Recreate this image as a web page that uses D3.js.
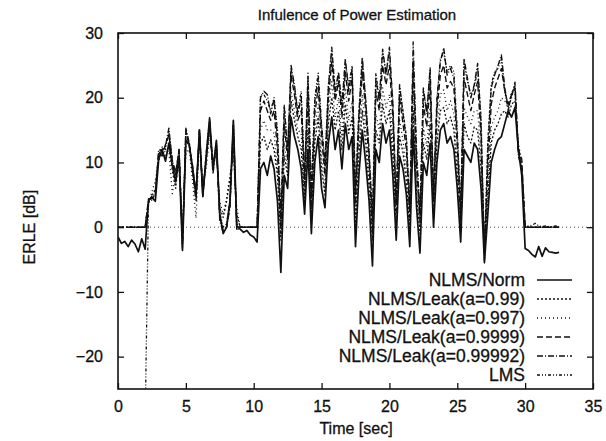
<!DOCTYPE html>
<html>
<head>
<meta charset="utf-8">
<script src="https://cdn.jsdelivr.net/npm/d3@7"></script>
<style>
  body { margin: 0; background: #fff; }
  text { font-family: "Liberation Sans", Arial, Helvetica, sans-serif; fill: #111; }
</style>
</head>
<body>
<div id="chart"></div>
<script>
// sampling of every series: one value each 0.25 s, from 0 s to 32.5 s
const sampleStep = 0.25;

const xTicks = [0, 5, 10, 15, 20, 25, 30, 35];
const yTicks = [-20, -10, 0, 10, 20, 30];

const seriesNames = [
    "NLMS/Norm",
    "NLMS/Leak(a=0.99)",
    "NLMS/Leak(a=0.997)",
    "NLMS/Leak(a=0.9999)",
    "NLMS/Leak(a=0.99992)",
    "LMS"
];

const norm = [
    // 0 - 4.75
    -1.5, -2.5, -2.2, -3.0, -2.0, -2.6, -3.8, -1.8, -3.4, 4.2, 4.6, 4.0, 10.5, 12.0, 10.2, 13.0, 9.5, 7.0, 10.8, -3.6,
    // 5 - 9.75
    13.4, 12.8, 9.0, 5.0, 15.0, 4.8, 11.0, 16.9, 9.0, 13.4, 2.0, -1.0, 0.0, 4.0, 16.5, 0.2, -0.3, -0.8, -0.5, -1.2,
    // 10 - 14.75
    -1.5, -2.3, 9.0, 10.0, 8.0, 11.0, 9.0, 4.0, -7.0, 8.0, 6.0, 17.0, 14.0, 12.0, 9.0, 2.0, 12.0, -1.0, 10.0, 14.0,
    // 15 - 19.75
    6.0, 3.0, 13.0, 17.0, 12.0, 15.0, 9.0, 16.0, 12.0, 14.0, -3.0, 8.0, 15.0, 10.0, 4.0, -6.0, 12.0, 10.0, 16.0, 13.0,
    // 20 - 24.75
    15.0, 8.0, -2.0, 11.0, 9.0, 5.0, -3.0, 15.0, 3.0, -4.0, 10.0, 8.0, 13.0, 0.0, 10.0, 15.0, 16.0, 13.0, 14.0, 12.0,
    // 25 - 29.75
    6.0, -2.3, 12.0, 11.0, 10.0, 13.0, 12.0, 6.0, -5.5, 2.0, 10.0, 12.0, 13.5, 14.0, 16.0, 18.0, 17.0, 18.5, 12.0, 8.0,
    // 30 - 32.5
    -3.3, -3.6, -4.2, -4.6, -3.0, -4.5, -3.2, -3.8, -3.9, -4.0, -3.9
];

const leak99 = [
    0, 0, 0, 0, 0, 0, 0, 0, 0, 3.8, 5.0, 5.8, 11.0, 11.5, 10.8, 12.5, 8.8, 6.0, 11.2, -1.0,
    12.5, 13.2, 8.0, 6.0, 14.2, 5.5, 10.2, 15.5, 9.8, 12.0, 3.0, 1.5, 4.0, 7.5, 12.0, 2.0, 0, 0, 0, 0,
    0, 0, 13.0, 14.0, 12.0, 13.5, 12.0, 8.0, -2.0, 11.0, 8.0, 19.5, 16.5, 14.0, 12.0, 4.0, 15.0, 1.0, 13.0, 17.0,
    9.0, 5.0, 16.0, 20.0, 15.0, 18.0, 12.0, 19.0, 14.5, 17.0, 0.0, 11.0, 18.0, 13.0, 6.0, -2.0, 15.0, 13.0, 19.0, 16.0,
    18.0, 11.0, 0.0, 14.0, 11.5, 7.0, -1.0, 18.0, 5.0, -1.0, 13.0, 10.5, 16.0, 1.5, 13.0, 18.0, 18.5, 16.0, 17.0, 15.0,
    8.0, -1.0, 16.0, 14.0, 13.0, 15.5, 15.0, 9.0, -3.0, 4.0, 13.0, 15.0, 16.0, 17.5, 18.0, 17.0, 19.0, 19.5, 12.5, 9.0,
    0, 0, 0, 0, 0, 0, 0, 0, 0, 0, 0
];

const leak997 = [
    0, 0, 0, 0, 0, 0, 0, 0, 0, 3.5, 5.5, 7.2, 10.2, 12.2, 11.5, 11.8, 5.2, 8.2, 9.0, -0.5,
    11.5, 12.0, 7.0, 1.4, 13.5, 6.5, 9.0, 14.2, 10.5, 11.2, 4.0, 2.0, 4.5, 8.0, 11.0, 3.0, 0, 0, 0, 0,
    0, 0, 15.0, 16.5, 15.0, 15.0, 14.5, 9.0, 0.0, 13.0, 9.0, 21.0, 18.0, 15.0, 14.5, 5.0, 17.5, 2.0, 15.0, 19.0,
    11.0, 6.0, 18.0, 22.5, 17.0, 20.0, 14.0, 21.5, 16.5, 19.5, 1.5, 13.0, 20.5, 15.0, 8.0, 0.0, 17.5, 15.0, 21.5, 18.5,
    20.5, 13.5, 1.0, 16.5, 13.5, 9.0, 0.0, 21.0, 7.0, 0.0, 15.5, 12.5, 18.5, 2.5, 15.0, 20.5, 21.2, 18.0, 19.5, 17.5,
    10.0, 0.0, 18.5, 17.0, 16.0, 18.0, 18.0, 11.0, -2.0, 6.0, 15.5, 17.0, 18.0, 20.0, 19.5, 18.5, 21.0, 20.5, 13.0, 10.0,
    0, 0, 0, 0, 0, 0, 0, 0, 0, 0, 0
];

const leak9999 = [
    0, 0, 0, 0, 0, 0, 0, 0, 0, 4.0, 4.8, 5.0, 11.5, 11.0, 12.8, 14.2, 10.2, 8.5, 11.8, -2.8,
    14.8, 12.5, 9.5, 4.5, 14.8, 5.0, 10.8, 16.2, 8.8, 13.0, 1.5, -0.5, 0.0, 3.5, 15.8, 0.0, 0, 0, 0, 0,
    0, 0, 18.0, 19.5, 18.0, 16.5, 18.0, 12.0, -1.0, 16.0, 10.5, 23.5, 20.5, 16.5, 18.0, 6.5, 21.0, 3.0, 17.5, 21.5,
    14.0, 8.0, 20.0, 25.5, 19.5, 22.5, 17.0, 24.0, 19.5, 23.0, 3.5, 16.0, 24.0, 18.0, 10.0, -1.0, 21.0, 18.0, 25.0, 22.0,
    25.0, 17.0, 2.5, 20.0, 16.0, 12.0, 1.5, 25.0, 9.5, 1.0, 19.0, 15.5, 22.0, 4.0, 18.0, 23.5, 25.0, 21.5, 22.5, 21.5,
    12.5, 1.0, 23.0, 20.5, 18.0, 20.5, 22.5, 14.0, -4.0, 9.0, 19.0, 21.5, 23.0, 24.5, 21.0, 19.0, 20.5, 21.5, 12.0, 10.5,
    0, 0, 0, 0, 0, 0, 0, 0, 0, 0, 0
];

const leak99992 = [
    0, 0, 0, 0, 0, 0, 0, 0, 0, 4.4, 4.4, 5.4, 12.0, 11.8, 12.5, 15.3, 9.8, 7.8, 12.0, -3.2,
    15.3, 13.0, 8.5, 4.0, 15.2, 4.5, 11.5, 16.5, 8.2, 12.8, 1.0, -0.8, 0.0, 3.0, 16.2, -0.5, 0, 0, 0, 0,
    0, 0, 20.0, 21.0, 20.5, 17.5, 19.8, 14.0, 1.0, 18.5, 11.5, 25.0, 22.0, 17.5, 20.0, 7.5, 23.0, 4.5, 19.5, 23.0,
    15.5, 9.5, 21.5, 27.8, 21.0, 24.0, 18.5, 26.0, 21.0, 24.5, 5.0, 17.5, 26.3, 19.5, 11.5, 1.0, 23.0, 19.5, 27.5, 23.5,
    27.8, 19.0, 3.5, 22.0, 17.5, 13.5, 2.5, 28.6, 11.0, 2.0, 21.5, 17.5, 24.6, 5.0, 19.5, 25.5, 27.7, 23.5, 24.5, 23.0,
    14.0, 2.0, 26.0, 23.0, 20.0, 22.0, 25.3, 16.0, -5.1, 12.0, 21.5, 23.5, 25.0, 26.6, 21.5, 18.5, 20.0, 22.4, 11.0, 9.0,
    0, 0, 0, 0, 0, 0, 0, 0, 0, 0, 0
];

const lms = [
    -30, -30, -30, -30, -30, -30, -30, -30, -30, 4.0, 4.2, 5.2, 11.2, 12.4, 12.0, 14.8, 10.5, 8.0, 12.2, -2.5,
    15.0, 12.6, 9.2, 5.2, 14.6, 5.8, 10.5, 16.0, 9.2, 13.2, 2.2, 0.0, 0.5, 4.2, 15.0, 0.5, 0, 0, 0, 0,
    0, 0, 20.4, 20.5, 19.5, 18.0, 20.0, 15.0, 2.0, 19.0, 12.0, 24.5, 21.5, 18.0, 21.0, 8.0, 24.0, 6.0, 20.0, 23.8,
    16.0, 10.0, 22.0, 27.0, 20.5, 23.5, 19.0, 25.5, 22.0, 25.0, 6.0, 18.0, 25.5, 20.0, 12.0, 2.0, 23.8, 20.0, 27.0, 24.0,
    27.0, 19.6, 4.0, 21.5, 18.0, 14.0, 3.0, 26.0, 12.0, 2.0, 21.0, 18.0, 24.0, 5.0, 20.0, 26.0, 27.0, 24.0, 25.0, 24.0,
    15.0, 3.0, 25.0, 22.5, 20.5, 21.5, 24.5, 17.0, -3.5, 13.5, 22.0, 24.0, 24.5, 26.0, 21.0, 18.0, 20.5, 22.0, 11.5, 9.5,
    0.2, 0.2, 0.3, 0.6, 0.2, 0.1, 0.2, 0.1, 0.1, 0.2, 0.1
];

const allSeries = [norm, leak99, leak997, leak9999, leak99992, lms];
const dashes = [null, "2,2", "1,3", "6,3", "6,2,1,2", "3,2,1,2,1,2"];
const widths = [1.7, 1.3, 1.3, 1.4, 1.4, 1.3];

function init() {
    const w = 606;
    const h = 441;
    const margin = { top: 33, right: 13, bottom: 52, left: 118 };

    const svg = d3.select("#chart")
        .append("svg")
        .attr("width", w)
        .attr("height", h)
        .attr("viewBox", [0, 0, w, h]);

    const x = d3.scaleLinear()
        .domain([0, 35])
        .range([margin.left, w - margin.right]);

    const y = d3.scaleLinear()
        .domain([-25, 30])
        .range([h - margin.bottom, margin.top]);

    svg.append("clipPath")
        .attr("id", "plotclip")
        .append("rect")
        .attr("x", margin.left)
        .attr("y", margin.top)
        .attr("width", w - margin.left - margin.right)
        .attr("height", h - margin.top - margin.bottom);

    // zero line, dotted
    svg.append("line")
        .attr("x1", margin.left)
        .attr("x2", w - margin.right)
        .attr("y1", y(0))
        .attr("y2", y(0))
        .attr("stroke", "#333")
        .attr("stroke-width", 0.9)
        .attr("stroke-dasharray", "1,3");

    const line = d3.line()
        .x((d, i) => x(i * sampleStep))
        .y(d => y(d));

    svg.append("g")
        .attr("clip-path", "url(#plotclip)")
        .selectAll("path")
        .data(allSeries)
        .join("path")
        .attr("d", d => line(d))
        .attr("fill", "none")
        .attr("stroke", "#111")
        .attr("stroke-width", (d, i) => widths[i])
        .attr("stroke-linejoin", "round")
        .attr("stroke-dasharray", (d, i) => dashes[i]);

    // axes, ticks inward and mirrored like gnuplot
    const tk = 6;
    svg.append("g")
        .attr("transform", `translate(0,${h - margin.bottom})`)
        .call(d3.axisBottom(x).tickValues(xTicks).tickSizeInner(-tk).tickSizeOuter(0).tickPadding(12))
        .call(g => g.select(".domain").remove());
    svg.append("g")
        .attr("transform", `translate(0,${margin.top})`)
        .call(d3.axisTop(x).tickValues(xTicks).tickSizeInner(-tk).tickSizeOuter(0).tickFormat(""))
        .call(g => g.select(".domain").remove());
    svg.append("g")
        .attr("transform", `translate(${margin.left},0)`)
        .call(d3.axisLeft(y).tickValues(yTicks).tickSizeInner(-tk).tickSizeOuter(0).tickPadding(15))
        .call(g => g.select(".domain").remove());
    svg.append("g")
        .attr("transform", `translate(${w - margin.right},0)`)
        .call(d3.axisRight(y).tickValues(yTicks).tickSizeInner(-tk).tickSizeOuter(0).tickFormat(""))
        .call(g => g.select(".domain").remove());

    svg.selectAll(".tick line").attr("stroke", "#111").attr("stroke-width", 1.3);
    svg.selectAll(".tick text")
        .attr("font-family", "'Liberation Sans', Arial, sans-serif")
        .attr("font-size", 16)
        .attr("fill", "#111")
        .attr("stroke", "#111")
        .attr("stroke-width", 0.3);

    svg.append("rect")
        .attr("x", margin.left)
        .attr("y", margin.top)
        .attr("width", w - margin.left - margin.right)
        .attr("height", h - margin.top - margin.bottom)
        .attr("fill", "none")
        .attr("stroke", "#111")
        .attr("stroke-width", 1.6);

    const labels = svg.append("g")
        .attr("stroke", "#111")
        .attr("stroke-width", 0.3);

    labels.append("text")
        .attr("x", 357)
        .attr("y", 20)
        .attr("text-anchor", "middle")
        .style("font-size", "15px")
        .text("Infulence of Power Estimation");

    labels.append("text")
        .attr("x", 356)
        .attr("y", 434)
        .attr("text-anchor", "middle")
        .style("font-size", "16px")
        .text("Time [sec]");

    labels.append("text")
        .attr("transform", `translate(35,${y(0)}) rotate(-90)`)
        .attr("text-anchor", "middle")
        .style("font-size", "16px")
        .text("ERLE [dB]");

    // legend, lower right
    seriesNames.forEach((name, i) => {
        const ly = 280 + i * 19;
        labels.append("text")
            .attr("x", 525)
            .attr("y", ly)
            .attr("dy", "0.35em")
            .attr("text-anchor", "end")
            .style("font-size", "17.5px")
            .text(name);
        svg.append("line")
            .attr("x1", 537)
            .attr("x2", 572)
            .attr("y1", ly)
            .attr("y2", ly)
            .attr("stroke", "#111")
            .attr("stroke-width", widths[i])
            .attr("stroke-dasharray", dashes[i]);
    });
}

window.onload = init;
</script>
</body>
</html>
